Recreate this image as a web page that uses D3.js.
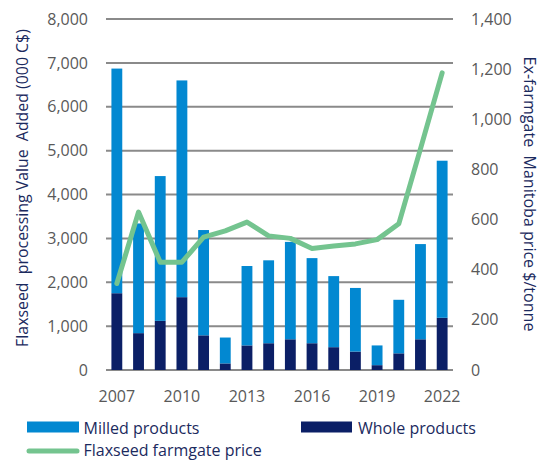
<!DOCTYPE html>
<html><head><meta charset="utf-8">
<script src="https://cdn.jsdelivr.net/npm/d3@7"></script>
<style>body{margin:0;background:#fff}svg{display:block}text{font-family:"Open Sans",sans-serif}</style>
</head><body><div id="chart"></div>
<script>
const years = [2007,2008,2009,2010,2011,2012,2013,2014,2015,2016,2017,2018,2019,2020,2021,2022];
const totalValue = [6870,3340,4420,6600,3190,740,2370,2500,2920,2550,2140,1870,560,1600,2870,4770];
const wholeProducts = [1750,840,1120,1660,790,150,560,610,700,610,520,420,110,380,700,1190];
const milledProducts = totalValue.map((t,i)=>t-wholeProducts[i]);
const farmgatePrice = [345,630,430,430,530,555,590,535,525,485,495,503,520,583,882,1185];
const leftTicks = [0,1000,2000,3000,4000,5000,6000,7000,8000];
const rightTicks = [0,200,400,600,800,1000,1200,1400];
const xLabelYears = [2007,2010,2013,2016,2019,2022];
const seriesNames = ["Milled products","Whole products","Flaxseed farmgate price"];
const colors = {milled:"#0288D1", whole:"#0B1F66", line:"#74C48F", grid:"#8A8A8A", tick:"#595959", title:"#1B2A5E"};

const W=545,H=461;
const svg=d3.select("#chart").append("svg").attr("width",W).attr("height",H);
const x=d3.scaleBand().domain(years).range([106,453]).paddingInner(0.5).paddingOuter(0.25);
const y=d3.scaleLinear().domain([0,8000]).range([370,19]);
const y2=d3.scaleLinear().domain([0,1400]).range([370,19]);

// grid
svg.append("g").selectAll("line").data(leftTicks).join("line")
  .attr("x1",106).attr("x2",453).attr("y1",d=>y(d)).attr("y2",d=>y(d))
  .attr("stroke",colors.grid).attr("stroke-width",2);

// left axis labels
const gl=svg.append("g").attr("transform","translate(88,0)")
  .call(d3.axisLeft(y).tickValues(leftTicks).tickFormat(d3.format(",")).tickSize(0).tickPadding(0));
gl.select(".domain").remove();
gl.selectAll("text").attr("font-family","Open Sans").attr("font-size",16).attr("fill",colors.tick);

const gr=svg.append("g").attr("transform","translate(471,0)")
  .call(d3.axisRight(y2).tickValues(rightTicks).tickFormat(d3.format(",")).tickSize(0).tickPadding(0));
gr.select(".domain").remove();
gr.selectAll("text").attr("font-family","Open Sans").attr("font-size",16).attr("fill",colors.tick);

const gx=svg.append("g").attr("transform","translate(0,402)")
  .call(d3.axisBottom(x).tickValues(xLabelYears).tickSize(0).tickPadding(0));
gx.select(".domain").remove();
gx.selectAll("text").attr("font-family","Open Sans").attr("font-size",16).attr("fill",colors.tick).attr("dy",0).attr("y",0);

// bars
const stack=d3.stack().keys(["whole","milled"])(years.map((yr,i)=>({year:yr,whole:wholeProducts[i],milled:milledProducts[i]})));
svg.append("g").selectAll("g").data(stack).join("g")
  .attr("fill",d=>d.key==="whole"?colors.whole:colors.milled)
  .selectAll("rect").data(d=>d).join("rect")
  .attr("x",d=>x(d.data.year)).attr("width",x.bandwidth())
  .attr("y",d=>y(d[1])).attr("height",d=>y(d[0])-y(d[1]));

// line
const line=d3.line().x((d,i)=>x(years[i])+x.bandwidth()/2).y(d=>y2(d));
svg.append("path").datum(farmgatePrice).attr("d",line).attr("fill","none")
  .attr("stroke",colors.line).attr("stroke-width",5).attr("stroke-linejoin","round").attr("stroke-linecap","round");

// axis titles (fit to measured span)
function fitTitle(t, target){
  const len=t.node().getComputedTextLength();
  const fs=+t.attr("font-size");
  t.attr("font-size", (fs*target/len).toFixed(2));
}
const lt=svg.append("text").attr("transform","translate(28,188) rotate(-90)").attr("text-anchor","middle")
  .attr("font-size",15).attr("fill",colors.title).style("white-space","pre")
  .text("Flaxseed  processing Value  Added (000 C$)");
fitTitle(lt,318);
const rt=svg.append("text").attr("transform","translate(524,194) rotate(90)").attr("text-anchor","middle")
  .attr("font-size",15).attr("fill",colors.title).style("white-space","pre")
  .text("Ex-farmgate  Manitoba price $/tonne");
fitTitle(rt,275);

// legend
const lg=svg.append("g");
lg.append("rect").attr("x",27).attr("y",421.5).attr("width",52).attr("height",11).attr("fill",colors.milled);
lg.append("text").attr("x",83.5).attr("y",434).attr("font-size",16).attr("fill",colors.title).text(seriesNames[0]);
lg.append("rect").attr("x",301).attr("y",421.5).attr("width",51).attr("height",11).attr("fill",colors.whole);
lg.append("text").attr("x",358).attr("y",434).attr("font-size",16).attr("fill",colors.title).text(seriesNames[1]);
lg.append("line").attr("x1",29).attr("x2",77).attr("y1",451).attr("y2",451).attr("stroke",colors.line).attr("stroke-width",5).attr("stroke-linecap","round");
lg.append("text").attr("x",83.5).attr("y",456).attr("font-size",16).attr("fill",colors.title).text(seriesNames[2]);
</script></body></html>
